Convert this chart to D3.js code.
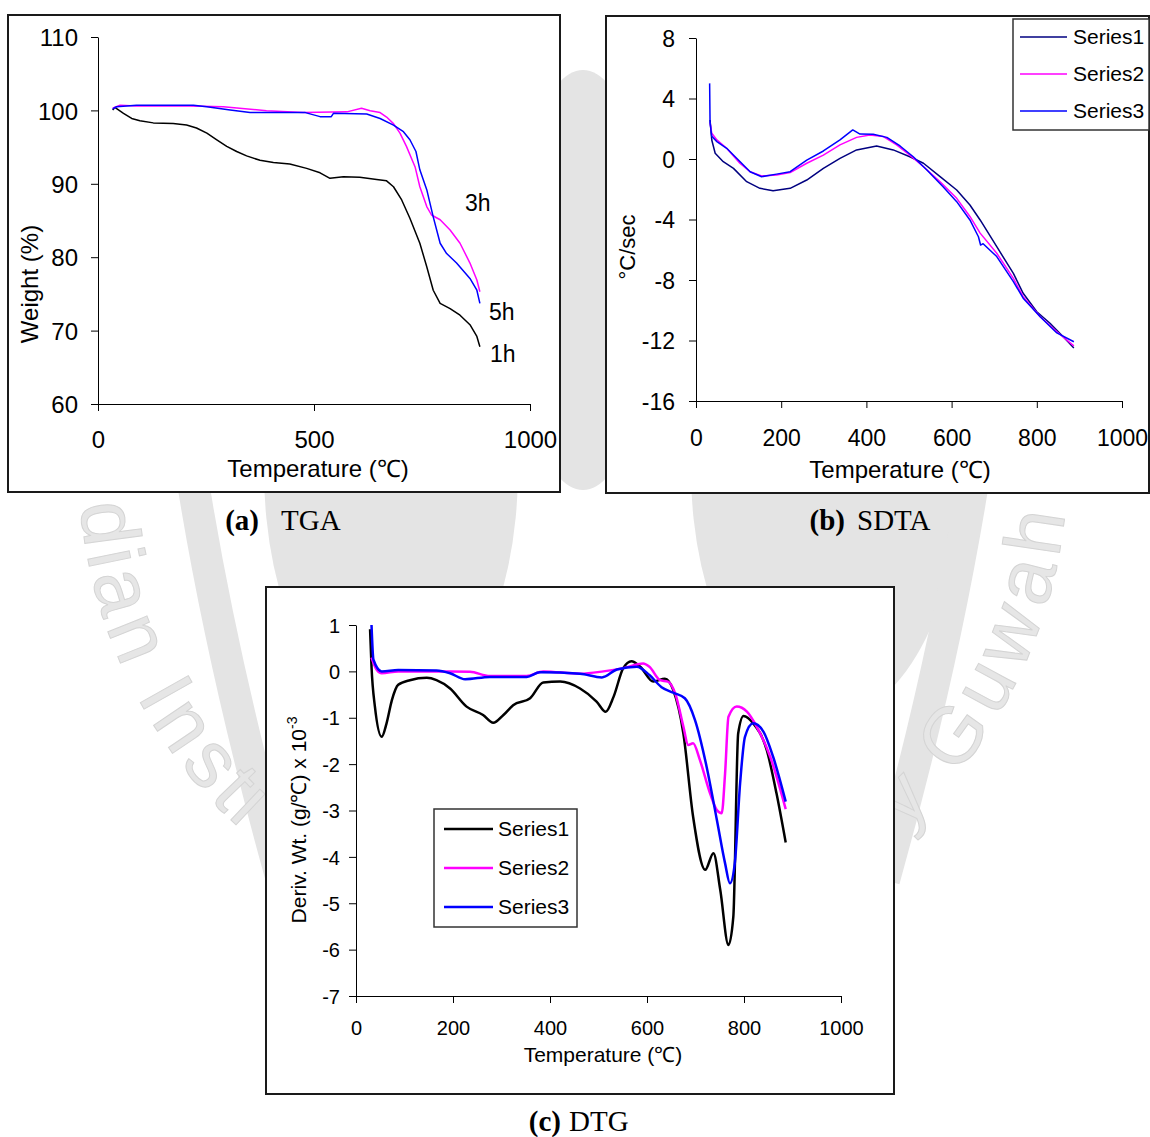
<!DOCTYPE html>
<html>
<head>
<meta charset="utf-8">
<script src="https://cdn.jsdelivr.net/npm/d3@7"></script>
<style>
  body { margin: 0; background: #fff; }
  svg text { font-family: "Liberation Sans", Arial, sans-serif; fill: #000; }
</style>
</head>
<body>
<div id="chart"></div>
<script>
// ---- data ----
// (a) TGA : [temperature C, weight %]
var tgaTicksX = [0, 500, 1000];
var tgaTicksY = [60, 70, 80, 90, 100, 110];
var tga1h = [[34,100.05],[39,100.4],[59,99.6],[78,98.9],[97,98.6],[128,98.3],[174,98.2],[205,98.0],[228,97.6],[252,96.9],[275,96.0],[298,95.1],[321,94.4],[344,93.8],[375,93.2],[406,92.9],[444,92.7],[483,92.1],[514,91.5],[537,90.75],[568,90.97],[606,90.9],[645,90.6],[668,90.4],[684,89.6],[703,87.8],[722,85.3],[745,81.9],[761,78.7],[776,75.5],[792,73.7],[815,73.0],[838,72.1],[861,70.8],[877,69.2],[884,67.8]];
var tga3h = [[34,100.3],[51,100.7],[89,100.6],[213,100.6],[290,100.5],[390,99.96],[475,99.7],[576,99.8],[610,100.3],[630,99.96],[653,99.7],[668,99.1],[684,98.2],[699,96.9],[714,95.1],[734,92.3],[745,89.6],[761,86.9],[772,85.75],[792,85.1],[815,83.7],[838,81.9],[861,79.2],[877,76.9],[884,75.3]];
var tga5h = [[34,100.2],[43,100.5],[89,100.7],[221,100.7],[252,100.5],[306,100.05],[352,99.7],[480,99.7],[514,99.15],[540,99.15],[545,99.6],[622,99.5],[653,98.9],[684,98.0],[707,97.1],[722,96.0],[736,94.4],[745,91.9],[761,89.2],[776,85.5],[792,81.9],[807,80.5],[830,79.2],[861,77.1],[877,75.5],[884,73.7]];
var tgaLabels = ["1h", "3h", "5h"];

// (b) SDTA : [temperature C, C/sec]
var sdtaTicksX = [0, 200, 400, 600, 800, 1000];
var sdtaTicksY = [-16, -12, -8, -4, 0, 4, 8];
var sdta1 = [[33,2.58],[37,1.26],[45,0.38],[64,-0.18],[88,-0.62],[119,-1.5],[150,-1.94],[181,-2.1],[221,-1.94],[260,-1.39],[299,-0.62],[338,0.04],[377,0.6],[424,0.86],[463,0.6],[502,0.15],[534,-0.28],[573,-1.17],[612,-2.05],[643,-3.04],[667,-4.03],[706,-5.8],[745,-7.56],[768,-8.88],[800,-10.1],[831,-10.86],[862,-11.75],[887,-12.5]];
var sdta2 = [[33,2.4],[37,1.7],[49,1.26],[72,0.71],[103,-0.28],[127,-0.84],[154,-1.12],[189,-1.06],[221,-0.9],[260,-0.28],[299,0.26],[338,0.93],[377,1.43],[408,1.59],[440,1.48],[471,0.93],[502,0.26],[534,-0.51],[573,-1.5],[612,-2.6],[643,-3.8],[667,-4.9],[706,-6.23],[745,-7.89],[768,-9.1],[808,-10.43],[847,-11.42],[887,-12.36]];
var sdta3 = [[32,5.0],[33,2.4],[37,1.5],[49,1.15],[72,0.71],[103,-0.17],[127,-0.84],[154,-1.17],[189,-1.0],[221,-0.84],[260,-0.07],[299,0.53],[338,1.26],[368,1.92],[385,1.65],[416,1.63],[448,1.43],[479,0.86],[510,0.15],[542,-0.73],[580,-1.83],[612,-2.82],[643,-4.03],[663,-5.14],[668,-5.69],[674,-5.6],[706,-6.45],[745,-8.11],[768,-9.2],[808,-10.43],[847,-11.5],[887,-12.08]];

// (c) DTG : [temperature C, deriv. weight x 10^-3]
var dtgTicksX = [0, 200, 400, 600, 800, 1000];
var dtgTicksY = [-7, -6, -5, -4, -3, -2, -1, 0, 1];
var dtg1 = [[29,0.91],[32,0.1],[39,-0.76],[53,-1.41],[63,-1.12],[74,-0.62],[87,-0.29],[111,-0.19],[146,-0.14],[166,-0.19],[194,-0.37],[228,-0.76],[262,-0.94],[283,-1.11],[304,-0.94],[324,-0.73],[359,-0.58],[386,-0.24],[421,-0.22],[462,-0.37],[496,-0.65],[515,-0.87],[531,-0.55],[551,0.07],[568,0.22],[586,0.1],[613,-0.22],[637,-0.16],[654,-0.4],[675,-1.34],[695,-3.13],[720,-4.28],[737,-3.92],[751,-4.71],[768,-5.9],[778,-5.29],[788,-1.34],[799,-0.96],[819,-1.12],[847,-1.7],[867,-2.63],[886,-3.69]];
var dtg2 = [[32,0.3],[43,0.03],[53,-0.04],[87,0.0],[194,0.0],[235,-0.01],[276,-0.1],[352,-0.1],[386,0.0],[462,-0.05],[510,0.0],[551,0.07],[592,0.17],[605,0.1],[627,-0.19],[643,-0.22],[658,-0.47],[675,-1.19],[685,-1.59],[695,-1.55],[709,-1.91],[730,-2.63],[744,-2.99],[754,-3.06],[761,-2.2],[768,-0.98],[785,-0.76],[806,-0.87],[826,-1.19],[854,-1.84],[886,-2.97]];
var dtg3 = [[32,1.0],[36,0.25],[53,0.0],[87,0.03],[166,0.02],[194,-0.04],[225,-0.17],[276,-0.12],[352,-0.12],[379,-0.02],[462,-0.05],[507,-0.13],[538,0.04],[579,0.1],[605,-0.08],[630,-0.34],[654,-0.46],[678,-0.58],[699,-1.05],[723,-2.06],[744,-3.2],[761,-4.14],[771,-4.57],[781,-4.14],[792,-2.41],[802,-1.41],[819,-1.12],[840,-1.3],[860,-1.84],[886,-2.81]];

var seriesNames = ["Series1", "Series2", "Series3"];

// panel frames [x, y, w, h]
var frameTGA = [8, 15, 552, 477];
var frameSDTA = [606, 16, 543, 477];
var frameDTG = [266, 587, 628, 507];

var svg = d3.select("#chart").append("svg")
  .attr("width", 1150)
  .attr("height", 1137);

// faint institute watermark behind the panels
var wm = svg.append("g").attr("fill", "#e4e4e4");
wm.append("ellipse").attr("cx", 391).attr("cy", 470).attr("rx", 127).attr("ry", 250);
wm.append("ellipse").attr("cx", 826).attr("cy", 470).attr("rx", 135).attr("ry", 250);
wm.append("ellipse").attr("cx", 583).attr("cy", 280).attr("rx", 70).attr("ry", 210);
wm.append("path").attr("d", "M185,430 Q215,640 282,880").attr("fill", "none")
  .attr("stroke", "#e4e4e4").attr("stroke-width", 32);
wm.append("path").attr("d", "M981,430 Q951,640 884,880").attr("fill", "none")
  .attr("stroke", "#e4e4e4").attr("stroke-width", 32);

// ring lettering, one glyph at a time, letters facing the centre
var ringText = "Indian Institute of Technology Guwahati";
var ringFont = 80, ringCx = 573, ringCy = 463, ringR = 467;
var meas = svg.append("text").style("font-size", ringFont + "px");
var adv = ringText.split("").map(function(ch) {
  meas.text(ch === " " ? "\u00a0" : ch);
  return meas.node().getComputedTextLength();
});
meas.remove();
var mid = [], run = 0;
adv.forEach(function(w) { mid.push(run + w / 2); run += w; });
var ang = d3.scaleLinear().domain([mid[2], mid[35]]).range([172.6, 8.5]);

function inside(f, px, py) {
  return px > f[0] && px < f[0] + f[2] && py > f[1] && py < f[1] + f[3];
}
ringText.split("").forEach(function(ch, i) {
  if (ch === " ") return;
  var t = ang(mid[i]) * Math.PI / 180;
  var px = ringCx + ringR * Math.cos(t), py = ringCy + ringR * Math.sin(t);
  if (inside(frameTGA, px, py) || inside(frameSDTA, px, py) || inside(frameDTG, px, py)) return;
  wm.append("text")
    .attr("transform", `translate(${px},${py}) rotate(${ang(mid[i]) - 90})`)
    .attr("text-anchor", "middle")
    .attr("dominant-baseline", "central")
    .style("font-size", ringFont + "px")
    .style("fill", "#e6e6e6")
    .style("stroke", "#d4d4d4")
    .style("stroke-width", 1)
    .text(ch);
});

function drawPanel(p) {
  svg.append("rect")
    .attr("x", p.frame[0]).attr("y", p.frame[1])
    .attr("width", p.frame[2]).attr("height", p.frame[3])
    .attr("fill", "#fff").attr("stroke", "#1a1a1a").attr("stroke-width", 2);

  var x = d3.scaleLinear().domain([0, 1000]).range([p.left, p.right]);
  var y = d3.scaleLinear().domain(p.yDomain).range([p.bottom, p.top]);

  var xAxis = svg.append("g")
    .attr("transform", `translate(0, ${p.bottom})`)
    .call(d3.axisBottom(x).tickValues(p.xTicks).tickFormat(d => String(d)).tickSize(7).tickSizeOuter(0));
  xAxis.selectAll("text").attr("y", p.xLabelY).attr("dy", 0).style("font-size", p.font + "px");

  var yAxis = svg.append("g")
    .attr("transform", `translate(${p.left}, 0)`)
    .call(d3.axisLeft(y).tickValues(p.yTicks).tickFormat(d => String(d)).tickSize(7).tickSizeOuter(0));
  yAxis.selectAll("text").attr("x", p.yLabelX).attr("dy", "0.36em").style("font-size", p.font + "px");

  svg.selectAll(".domain, .tick line").attr("stroke", "#000");

  var line = d3.line()
    .x(d => x(d[0]))
    .y(d => y(d[1]))
    .curve(p.curve);

  p.series.forEach(function(s, i) {
    svg.append("path")
      .datum(s)
      .attr("fill", "none")
      .attr("stroke", p.colors[i])
      .attr("stroke-width", p.width)
      .attr("stroke-linejoin", "round")
      .attr("d", line);
  });

  svg.append("text")
    .attr("x", p.xTitle[0]).attr("y", p.xTitle[1])
    .attr("text-anchor", "middle")
    .style("font-size", p.titleFont + "px")
    .text("Temperature (\u2103)");

  return { x: x, y: y };
}

// (a) TGA
drawPanel({
  frame: frameTGA,
  left: 98, right: 530, top: 37, bottom: 404,
  yDomain: [60, 110], xTicks: tgaTicksX, yTicks: tgaTicksY,
  font: 24, titleFont: 24, xLabelY: 44, yLabelX: -20,
  xTitle: [318, 477],
  series: [tga1h, tga3h, tga5h], colors: ["#000", "#ff00ff", "#0000ff"],
  width: 1.5, curve: d3.curveLinear
});
svg.append("text")
  .attr("transform", "translate(38, 284) rotate(-90)")
  .attr("text-anchor", "middle")
  .style("font-size", "24px")
  .text("Weight (%)");
svg.selectAll(null)
  .data([[490, 362], [465, 211], [489, 320]])
  .enter().append("text")
  .attr("x", d => d[0]).attr("y", d => d[1])
  .style("font-size", "23px")
  .text((d, i) => tgaLabels[i]);

// (b) SDTA
drawPanel({
  frame: frameSDTA,
  left: 696, right: 1122, top: 38, bottom: 401,
  yDomain: [-16, 8], xTicks: sdtaTicksX, yTicks: sdtaTicksY,
  font: 23, titleFont: 24, xLabelY: 45, yLabelX: -21,
  xTitle: [900, 478],
  series: [sdta1, sdta2, sdta3], colors: ["#000080", "#ff00ff", "#0000ff"],
  width: 1.5, curve: d3.curveLinear
});
svg.append("text")
  .attr("transform", "translate(635, 247) rotate(-90)")
  .attr("text-anchor", "middle")
  .style("font-size", "22px")
  .text("\u00b0C/sec");

// (c) DTG
drawPanel({
  frame: frameDTG,
  left: 356, right: 841, top: 625, bottom: 996,
  yDomain: [-7, 1], xTicks: dtgTicksX, yTicks: dtgTicksY,
  font: 20, titleFont: 21, xLabelY: 39, yLabelX: -16,
  xTitle: [603, 1062],
  series: [dtg1, dtg2, dtg3], colors: ["#000", "#ff00ff", "#0000ff"],
  width: 2.5, curve: d3.curveMonotoneX
});
var dtgTitle = svg.append("text")
  .attr("transform", "translate(306, 820) rotate(-90)")
  .attr("text-anchor", "middle")
  .style("font-size", "21px");
dtgTitle.append("tspan").text("Deriv. Wt.  (g/\u2103) x 10");
dtgTitle.append("tspan").attr("dy", -9).style("font-size", "14px").text("-3");

// legends
function drawLegend(box, rowY, lineX, textX, colors, width, font) {
  svg.append("rect")
    .attr("x", box[0]).attr("y", box[1]).attr("width", box[2]).attr("height", box[3])
    .attr("fill", "#fff").attr("stroke", "#333").attr("stroke-width", 1.5);
  seriesNames.forEach(function(name, i) {
    svg.append("line")
      .attr("x1", lineX[0]).attr("x2", lineX[1])
      .attr("y1", rowY[i]).attr("y2", rowY[i])
      .attr("stroke", colors[i]).attr("stroke-width", width);
    svg.append("text")
      .attr("x", textX).attr("y", rowY[i] + 7)
      .style("font-size", font + "px")
      .text(name);
  });
}
drawLegend([1013, 19, 136, 111], [37, 74, 111], [1020, 1067], 1073, ["#000080", "#ff00ff", "#0000ff"], 1.5, 21);
drawLegend([434, 809, 143, 118], [829, 868, 907], [444, 493], 498, ["#000", "#ff00ff", "#0000ff"], 2.5, 21);

// captions: bold letter, then plain name
var captions = [["(a)", "TGA", 259, 281, 530], ["(b)", "SDTA", 845, 857, 530], ["(c)", "DTG", 561, 569, 1131]];
captions.forEach(function(c) {
  svg.append("text")
    .attr("x", c[2]).attr("y", c[4])
    .attr("text-anchor", "end")
    .style("font-family", "'Liberation Serif', 'Times New Roman', serif")
    .style("font-size", "29px")
    .style("font-weight", "bold")
    .text(c[0]);
  svg.append("text")
    .attr("x", c[3]).attr("y", c[4])
    .style("font-family", "'Liberation Serif', 'Times New Roman', serif")
    .style("font-size", "29px")
    .text(c[1]);
});
</script>
</body>
</html>
